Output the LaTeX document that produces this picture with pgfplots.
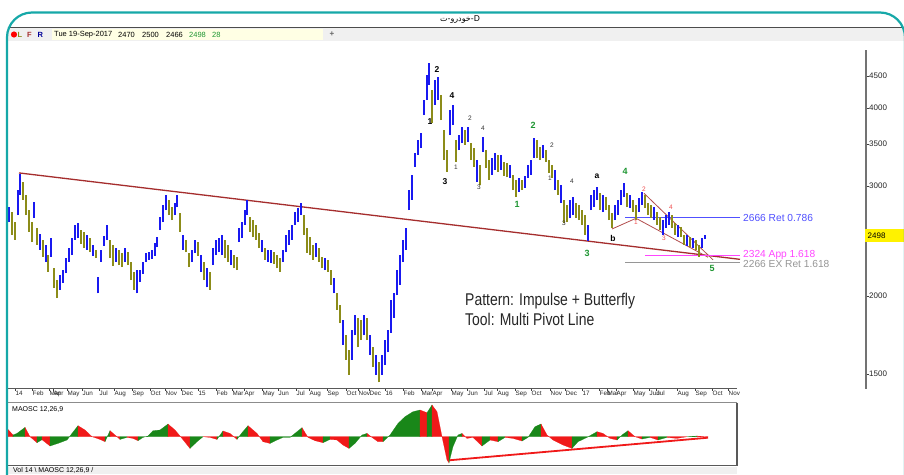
\documentclass[border=0pt]{standalone}
\usepackage{fontspec}
\setmainfont{Liberation Sans}
\newfontfamily\arabicfont[Script=Arabic]{DejaVu Sans}
\newfontfamily\narrowfont[FakeStretch=0.82]{Liberation Sans}
\TeXXeTstate=1
\usepackage{pgfplots}
\pgfplotsset{compat=1.18}
\usepackage{pgfplotstable}

\definecolor{frameteal}{RGB}{22,168,168}
\definecolor{barblue}{RGB}{25,25,240}
\definecolor{barolive}{RGB}{140,140,25}
\definecolor{trendred}{RGB}{165,45,45}
\definecolor{wavegreen}{RGB}{30,150,50}
\definecolor{oscgreen}{RGB}{25,135,25}
\definecolor{oscred}{RGB}{240,25,25}
\definecolor{annblue}{RGB}{80,80,255}
\definecolor{annmag}{RGB}{255,70,255}
\definecolor{anngray}{RGB}{150,150,150}
\definecolor{pivred}{RGB}{240,80,80}
\definecolor{hdrgray}{RGB}{240,240,240}
\definecolor{fieldyellow}{RGB}{255,255,228}

% bars: x position, high, low (price)
\pgfplotstableread{
x hi lo
9 2780 2630
18 2955 2695
20 3135 2905
34 2830 2665
40 2515 2370
46 2415 2270
51 2475 2310
60 2160 2045
63 2200 2100
66 2300 2175
69 2385 2270
72 2475 2325
75 2600 2460
78 2615 2475
87 2505 2370
93 2415 2320
98 2145 2020
101 2370 2270
104 2495 2405
107 2600 2460
116 2385 2270
125 2385 2270
137 2200 2020
140 2200 2105
143 2270 2170
146 2345 2270
149 2350 2285
152 2365 2290
155 2430 2320
157 2485 2395
160 2675 2550
163 2795 2625
166 2905 2745
175 2820 2695
177 2905 2775
183 2505 2370
192 2370 2270
195 2460 2345
201 2325 2185
207 2215 2065
213 2385 2240
216 2460 2325
219 2475 2350
222 2505 2325
231 2370 2240
239 2570 2440
242 2625 2475
245 2745 2600
247 2850 2695
262 2460 2350
268 2370 2270
271 2370 2260
283 2370 2270
286 2505 2350
289 2550 2415
292 2600 2460
295 2725 2600
298 2765 2625
301 2820 2695
316 2430 2310
325 2300 2200
334 2135 2020
343 1830 1670
352 1765 1580
355 1865 1730
364 1865 1730
370 1730 1610
376 1610 1495
382 1610 1495
385 1700 1550
388 1765 1625
391 1970 1745
394 2020 1845
397 2200 2005
400 2325 2085
403 2460 2270
406 2570 2370
409 2955 2745
412 3125 2850
415 3390 3220
418 3555 3365
421 3645 3450
424 4120 3895
427 4515 4120
429 4720 4355
435 4435 4045
438 4485 4120
450 3970 3620
453 4045 3755
459 3620 3425
462 3730 3515
468 3730 3530
477 3300 3045
483 3595 3400
492 3325 3125
495 3390 3185
501 3365 3185
510 3240 3090
519 3090 2935
525 3115 2980
528 3240 3090
531 3300 3125
534 3580 3325
543 3490 3325
555 3185 2955
561 3010 2820
570 2850 2665
573 2880 2695
588 2600 2450
591 2905 2745
594 2955 2775
597 2990 2850
603 2905 2725
615 2795 2645
618 2850 2695
621 2955 2795
624 3035 2880
630 2905 2765
639 2870 2725
642 2935 2795
654 2775 2645
663 2645 2505
666 2695 2570
669 2725 2600
678 2600 2485
687 2505 2405
693 2475 2385
702 2475 2385
705 2500 2466
}\upbars

\pgfplotstableread{
x hi lo
12 2725 2505
15 2630 2460
23 3045 2850
26 2905 2695
29 2745 2535
32 2625 2440
37 2570 2415
43 2460 2310
48 2325 2185
54 2215 2060
57 2120 1985
81 2550 2425
84 2535 2385
90 2475 2350
96 2370 2300
110 2460 2300
113 2415 2235
119 2370 2240
122 2345 2225
128 2350 2240
131 2270 2120
134 2185 2045
169 2850 2695
172 2775 2645
180 2715 2535
186 2460 2350
189 2345 2225
198 2440 2320
204 2270 2120
210 2185 2045
225 2460 2300
228 2415 2270
234 2325 2215
237 2310 2200
250 2675 2535
253 2645 2485
256 2600 2460
259 2525 2385
265 2385 2285
274 2350 2250
277 2325 2215
280 2300 2185
304 2695 2505
307 2570 2345
310 2485 2325
313 2415 2285
319 2385 2270
322 2310 2215
328 2285 2185
331 2200 2085
337 2020 1900
340 1935 1810
346 1730 1580
349 1640 1495
358 1845 1655
361 1830 1700
367 1845 1700
373 1655 1540
379 1570 1455
432 4275 3785
441 4195 3825
444 3690 3300
447 3425 3160
456 3555 3280
465 3690 3490
471 3515 3300
474 3450 3220
480 3240 3010
486 3425 3205
489 3300 3065
498 3365 3160
504 3280 3115
507 3265 3100
513 3125 2955
516 3065 2880
522 3065 2955
537 3555 3325
540 3465 3300
546 3425 3280
549 3300 3150
552 3240 3090
558 3065 2905
564 2850 2615
567 2795 2625
576 2820 2665
579 2795 2645
582 2745 2600
585 2695 2505
600 2925 2745
606 2880 2745
609 2795 2645
612 2715 2570
627 2925 2775
633 2850 2725
636 2795 2645
645 2905 2765
648 2820 2695
651 2795 2665
657 2725 2600
660 2675 2550
672 2695 2570
675 2615 2505
681 2580 2485
684 2505 2415
690 2485 2395
696 2460 2370
699 2415 2310
}\downbars

\pgfplotsset{
  ohlc/.style={draw=none, mark=none,
    error bars/.cd, y dir=plus, y explicit, error mark=none,
    error bar style={draw=#1, line width=1.6pt}},
  oscG/.style={fill=oscgreen, draw=oscgreen, line width=0.2pt},
  oscR/.style={fill=oscred, draw=oscred, line width=0.2pt},
}

\begin{document}
\begin{tikzpicture}
\useasboundingbox (0pt,0pt) rectangle (904pt,-474pt);
\clip (0pt,0pt) rectangle (904pt,-474pt);
\fill[white] (0pt,0pt) rectangle (904pt,-474pt);

% price panel
\begin{axis}[
    at={(8pt,-388pt)}, anchor=south west,
    scale only axis, width=858pt, height=348pt,
    xmin=8, xmax=866,
    ymode=log, ymin=1424.6, ymax=5138.8,
    axis x line*=bottom, axis y line*=right,
    axis line style={draw=none},
    tick align=outside, major tick length=3pt,
    tick style={black!75, line width=0.6pt},
    minor tick num=0,
    xtick={15,32,49,53,67,82,99,114,132,150,165,181,198,216,232,244,262,278,296,309,327,346,358,369,385,403,421,432,451,467,484,497,515,531,550,565,582,599,607,616,633,649,656,677,695,712,728},
    xticklabels={14,Feb,Mar,Apr,May,Jun,Jul,Aug,Sep,Oct,Nov,Dec,15,Feb,Mar,Apr,May,Jun,Jul,Aug,Sep,Oct,Nov,Dec,16,Feb,Mar,Apr,May,Jun,Jul,Aug,Sep,Oct,Nov,Dec,17,Feb,Mar,Apr,May,Jun,Jul,Aug,Sep,Oct,Nov},
    xticklabel style={font=\fontsize{6.3}{7}\selectfont, anchor=north west, inner sep=0pt, xshift=0.5pt, text=black!85},
    ytick={1500,2000,3000,3500,4000,4500},
    yticklabels={1500,2000,3000,3500,4000,4500},
    yticklabel style={font=\fontsize{8}{9}\selectfont, anchor=west, inner sep=0pt, text=black!85},
]
\addplot[trendred, line width=1.3pt] coordinates {(19,3148) (740,2289)};
\addplot[trendred!85, line width=0.8pt] coordinates {(612,2560) (636,2663)};
\addplot[trendred!85, line width=0.8pt] coordinates {(636,2663) (708,2307)};
\addplot[trendred!85, line width=0.8pt] coordinates {(644,2920) (713,2285)};
\addplot[annblue, line width=1pt] coordinates {(625,2666) (740,2666)};
\addplot[anngray, line width=1pt] coordinates {(625,2266) (740,2266)};
\addplot[annmag, line width=1pt] coordinates {(645,2324) (740,2324)};
\addplot[ohlc=barolive] table[x=x, y=lo, y error expr=\thisrow{hi}-\thisrow{lo}] {\downbars};
\addplot[ohlc=barblue] table[x=x, y=lo, y error expr=\thisrow{hi}-\thisrow{lo}] {\upbars};
\node[anchor=west, text=annblue, font=\fontsize{10.2}{11}\selectfont, inner sep=0pt] at (axis cs:743,2666) {2666 Ret 0.786};
\node[anchor=west, text=anngray, font=\fontsize{10.2}{11}\selectfont, inner sep=0pt] at (axis cs:743,2250) {2266 EX Ret 1.618};
\node[anchor=west, text=annmag, font=\fontsize{10.2}{11}\selectfont, inner sep=0pt] at (axis cs:743,2330) {2324 App 1.618};
\end{axis}

% oscillator panel
\begin{axis}[
    at={(8pt,-465pt)}, anchor=south west,
    scale only axis, width=729pt, height=62pt,
    xmin=8, xmax=737, ymin=-28.3, ymax=33.7,
    hide axis,
]
\addplot[oscR] coordinates {(8,7.3)(13,1.7)} \closedcycle;
\addplot[oscG] coordinates {(13,1.7)(17,3.3)(25,9.3)} \closedcycle;
\addplot[oscR] coordinates {(25,9.3)(30,0)(37,-6)} \closedcycle;
\addplot[oscG] coordinates {(37,-6)(42,-3)} \closedcycle;
\addplot[oscR] coordinates {(42,-3)(50,-9.3)} \closedcycle;
\addplot[oscG] coordinates {(50,-9.3)(58,-6.7)(67,-3.3)(72,3.3)(78,11)} \closedcycle;
\addplot[oscR] coordinates {(78,11)(85,6.7)(92,0)(100,-2.7)(105,-5)} \closedcycle;
\addplot[oscG] coordinates {(105,-5)(110,6)} \closedcycle;
\addplot[oscR] coordinates {(110,6)(115,1.7)(120,-2.7)} \closedcycle;
\addplot[oscG] coordinates {(120,-2.7)(127,-0.7)} \closedcycle;
\addplot[oscR] coordinates {(127,-0.7)(133,-1.7)(138,-4)} \closedcycle;
\addplot[oscG] coordinates {(138,-4)(143,-0.7)(148,0.7)(153,6)(160,6.7)(168,12.7)} \closedcycle;
\addplot[oscR] coordinates {(168,12.7)(175,6.7)(182,-1.7)(190,-11.7)} \closedcycle;
\addplot[oscG] coordinates {(190,-11.7)(197,-5)(203,0)} \closedcycle;
\addplot[oscR] coordinates {(203,0)(210,-0.7)(217,-2.7)} \closedcycle;
\addplot[oscG] coordinates {(217,-2.7)(223,5.7)} \closedcycle;
\addplot[oscR] coordinates {(223,5.7)(230,3.3)(237,-2.7)} \closedcycle;
\addplot[oscG] coordinates {(237,-2.7)(242,4)(248,11)} \closedcycle;
\addplot[oscR] coordinates {(248,11)(257,3.3)(263,-5)(270,-6.7)} \closedcycle;
\addplot[oscG] coordinates {(270,-6.7)(277,-3.3)(283,-0.7)(290,-0.7)(297,5)(302,9)} \closedcycle;
\addplot[oscR] coordinates {(302,9)(308,-0.7)(315,-4)(323,-6)} \closedcycle;
\addplot[oscG] coordinates {(323,-6)(330,-2.7)} \closedcycle;
\addplot[oscR] coordinates {(330,-2.7)(337,-3.3)(343,-8.3)(349,-11.7)} \closedcycle;
\addplot[oscG] coordinates {(349,-11.7)(355,-6.7)(362,1.7)(367,3.3)} \closedcycle;
\addplot[oscR] coordinates {(367,3.3)(372,-0.7)(378,-5)(383,-5)} \closedcycle;
\addplot[oscG] coordinates {(383,-5)(390,1.7)(398,13.3)(405,20)(413,25)(420,26.7)} \closedcycle;
\addplot[oscR] coordinates {(420,26.7)(427,24)} \closedcycle;
\addplot[oscG] coordinates {(427,24)(432,31.7)} \closedcycle;
\addplot[oscR] coordinates {(432,31.7)(437,25)(442,0)(447,-23.3)(449,-26)} \closedcycle;
\addplot[oscG] coordinates {(449,-26)(453,-10)(458,1.7)(462,3.3)} \closedcycle;
\addplot[oscR] coordinates {(462,3.3)(467,-1.7)(473,-0.7)(482,-9.3)} \closedcycle;
\addplot[oscG] coordinates {(482,-9.3)(490,-3.3)} \closedcycle;
\addplot[oscR] coordinates {(490,-3.3)(498,-5)} \closedcycle;
\addplot[oscG] coordinates {(498,-5)(505,-0.7)} \closedcycle;
\addplot[oscR] coordinates {(505,-0.7)(513,-1.7)(522,-4.3)} \closedcycle;
\addplot[oscG] coordinates {(522,-4.3)(528,-0.7)(535,10)(541,12.7)} \closedcycle;
\addplot[oscR] coordinates {(541,12.7)(547,1.7)(553,-3.3)(563,-8.3)(572,-11.7)} \closedcycle;
\addplot[oscG] coordinates {(572,-11.7)(578,-5)(587,-0.7)(597,5)} \closedcycle;
\addplot[oscR] coordinates {(597,5)(603,3.3)(610,-1.7)(617,-3.3)} \closedcycle;
\addplot[oscG] coordinates {(617,-3.3)(622,1.7)(628,6)} \closedcycle;
\addplot[oscR] coordinates {(628,6)(635,0)(642,-2.3)} \closedcycle;
\addplot[oscG] coordinates {(642,-2.3)(650,-0.7)} \closedcycle;
\addplot[oscR] coordinates {(650,-0.7)(658,-3.3)} \closedcycle;
\addplot[oscG] coordinates {(658,-3.3)(667,-0.7)} \closedcycle;
\addplot[oscR] coordinates {(667,-0.7)(677,-1.7)(687,0)} \closedcycle;
\addplot[oscG] coordinates {(687,0)(697,0.7)} \closedcycle;
\addplot[oscR] coordinates {(697,0.7)(705,0)(708,-0.3)} \closedcycle;
\addplot[oscred, line width=1.8pt] coordinates {(450,-23.5) (708,-1)};
\end{axis}

% window furniture, in screen pixels
\begin{scope}[x=1pt, y=-1pt]
\fill[hdrgray] (8,28) rectangle (904,41);
\draw[black!70, line width=0.8pt] (8,27.6) -- (904,27.6);
\fill[fieldyellow] (52,29) rectangle (323,40);
\fill[red] (14,34.5) circle (3.1);
\node[anchor=west, inner sep=0pt, font=\bfseries\fontsize{7.5}{8}\selectfont, text=barolive] at (17.5,34.5) {L};
\node[anchor=west, inner sep=0pt, font=\bfseries\fontsize{7.5}{8}\selectfont, text=trendred] at (27,34.5) {F};
\node[anchor=west, inner sep=0pt, font=\bfseries\fontsize{7.5}{8}\selectfont, text=blue!60!black] at (37.5,34.5) {R};
\begin{scope}[every node/.style={anchor=west, inner sep=0pt, font=\fontsize{7.5}{8}\selectfont}]
\node at (54,34.5) {Tue 19-Sep-2017};
\node at (118,34.5) {2470};
\node at (142,34.5) {2500};
\node at (166,34.5) {2466};
\node[text=wavegreen] at (189,34.5) {2498};
\node[text=wavegreen] at (212,34.5) {28};
\end{scope}
\node[font=\bfseries\fontsize{8}{9}\selectfont, text=black!60] at (332,34.5) {+};
\node[font=\fontsize{8}{9}\selectfont] at (460,20) {\arabicfont\beginR خودرو-ت\endR-D};

\draw[black!55, line width=1.3pt] (866,50) -- (866,388.5);
\fill[yellow] (865,229) rectangle (904,242);
\node[anchor=west, inner sep=0pt, font=\fontsize{8}{9}\selectfont] at (867.5,235.5) {2498};

\draw[black!65, line width=1.2pt] (8,388.8) -- (737,388.8);
\draw[black!45, line width=0.8pt] (8,402.8) -- (737,402.8);
\draw[black!65, line width=1.4pt] (737,402.5) -- (737,466);
\draw[black!65, line width=1.8pt] (8,465.5) -- (737,465.5);
\fill[black!6] (8,466.5) rectangle (737,474);
\node[anchor=west, inner sep=0pt, font=\fontsize{7}{8}\selectfont] at (12,409.5) {MAOSC 12,26,9};
\node[anchor=west, inner sep=0pt, font=\fontsize{7}{8}\selectfont] at (13,470.5) {Vol 14 \textbackslash\ MAOSC 12,26,9 /};

\node[anchor=base west, inner sep=0pt, font=\narrowfont\fontsize{17}{19}\selectfont, text=black!85] at (465,305.5) {Pattern: Impulse + Butterfly};
\node[anchor=base west, inner sep=0pt, font=\narrowfont\fontsize{17}{19}\selectfont, text=black!85] at (465,325) {Tool: Multi Pivot Line};

\begin{scope}[every node/.style={inner sep=0pt, font=\bfseries\fontsize{8.5}{9}\selectfont}]
\node at (437,70) {2}; \node at (452,96) {4}; \node at (430,122) {1}; \node at (445,182) {3};
\node at (597,176) {a}; \node at (613,238) {b};
\end{scope}
\begin{scope}[every node/.style={inner sep=0pt, font=\fontsize{6.5}{7}\selectfont, text=black!80}]
\node at (470,118) {2}; \node at (483,128) {4}; \node at (456,167) {1}; \node at (479,187) {3};
\node at (552,145) {2}; \node at (550,178) {1}; \node at (572,181) {4}; \node at (564,223) {3};
\end{scope}
\begin{scope}[every node/.style={inner sep=0pt, font=\bfseries\fontsize{9}{10}\selectfont, text=wavegreen}]
\node at (517,204) {1}; \node at (533,125) {2}; \node at (587,253) {3}; \node at (625,171) {4}; \node at (712,268) {5};
\end{scope}
\begin{scope}[every node/.style={inner sep=0pt, font=\fontsize{6.5}{7}\selectfont, text=pivred}]
\node at (636,222) {1}; \node at (644,189) {2}; \node at (664,238) {3}; \node at (671,207) {4};
\end{scope}

\draw[frameteal, line width=2.2pt, rounded corners=25pt] (7,482) -- (7,12.5) -- (905,12.5) -- (905,482);
\end{scope}
\end{tikzpicture}
\end{document}
